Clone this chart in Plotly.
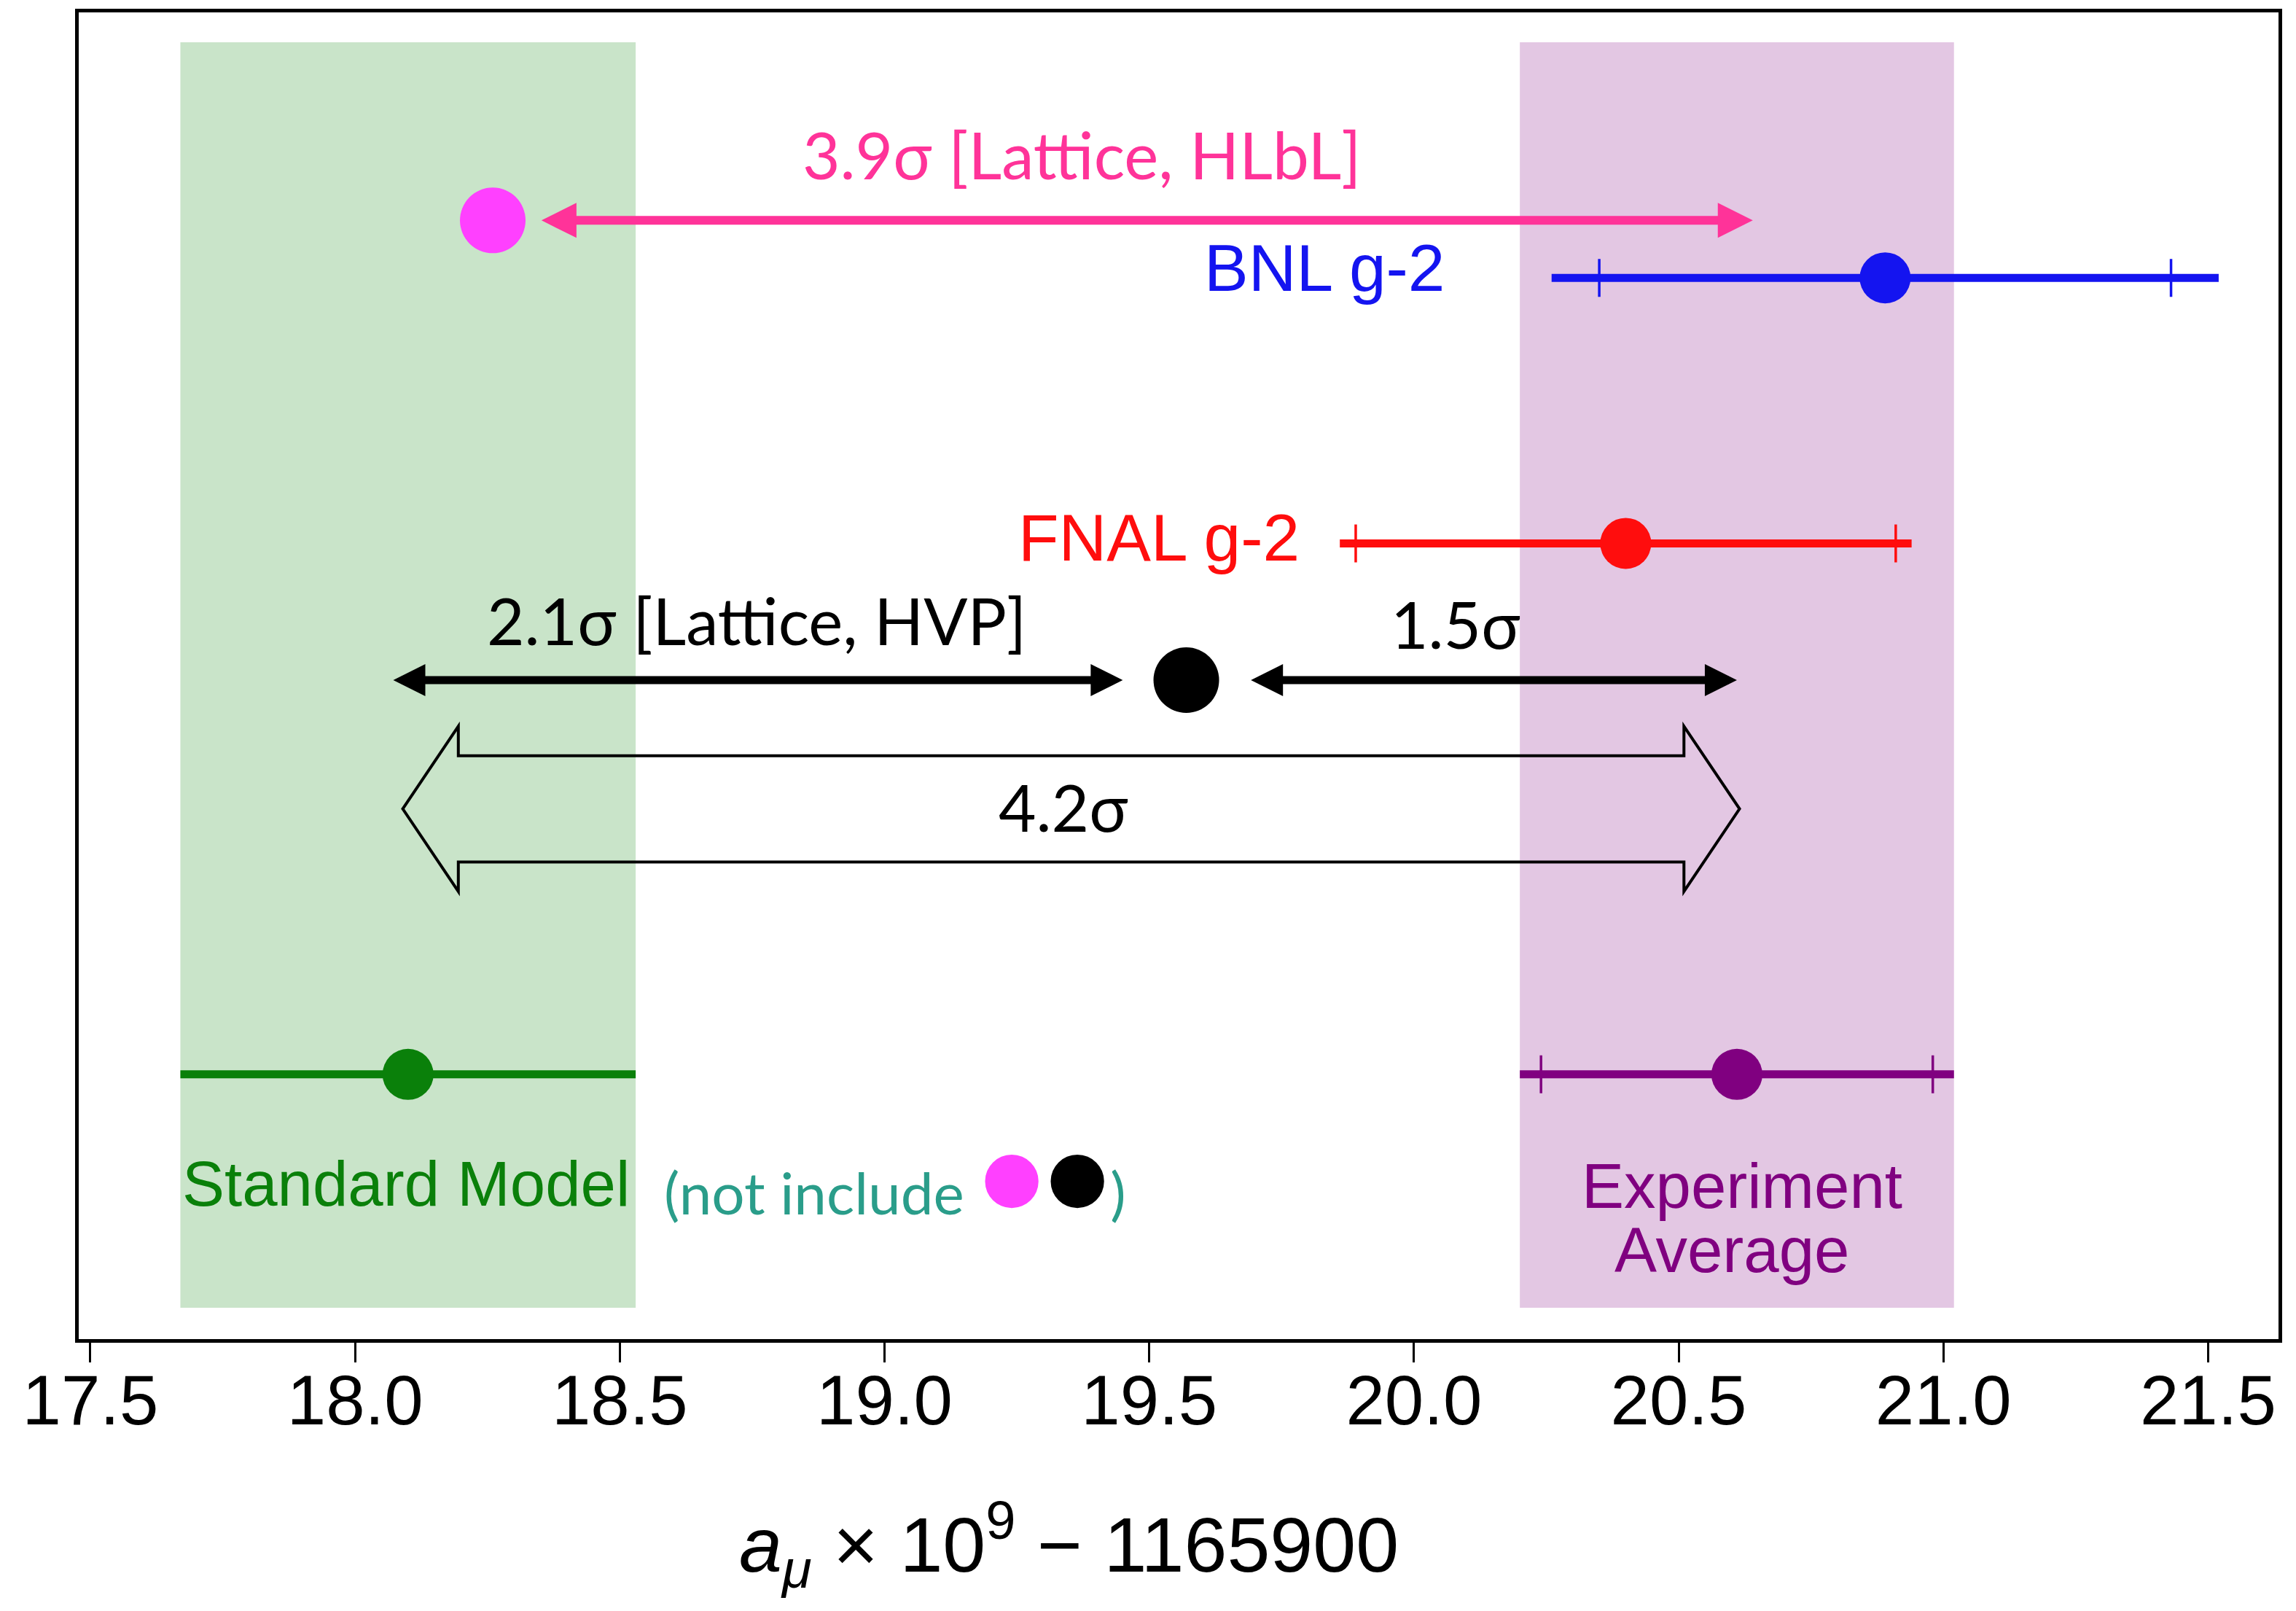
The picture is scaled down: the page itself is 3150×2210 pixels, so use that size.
import plotly.graph_objects as go

# ---------------- data ----------------
labels = ["Standard Model", "FNAL g-2", "BNL g-2", "Experiment Average"]
central = [18.10, 20.40, 20.89, 20.61]
err_total = [0.43, 0.54, 0.63, 0.41]
err_stat = [0.0, 0.51, 0.54, 0.37]
colors = ["#0a800a", "#ff0d0d", "#1414f0", "#800080"]
row_y = [3.64, 10.94, 14.59, 3.64]

lattice_hlbl = 18.26     # pink point
lattice_hvp = 19.57      # black point
hlbl_row = 15.38
hvp_row = 9.06
sigma_row = 7.29

hlbl_arrow = [18.35, 20.64]
hvp_left_arrow = [18.07, 19.45]
hvp_right_arrow = [19.69, 20.61]
big_arrow = [18.09, 20.615]

xticks = [17.5, 18.0, 18.5, 19.0, 19.5, 20.0, 20.5, 21.0, 21.5]
xtick_text = ["17.5", "18.0", "18.5", "19.0", "19.5", "20.0", "20.5", "21.0", "21.5"]
x_range = [17.478, 21.633]
y_range = [0, 18.24]
band_y = [0.43, 17.83]

PINK_DOT = "#ff40ff"
PINK = "#ff3399"
TEAL = "#2a9d8a"

fig = go.Figure()

# bands (SM and experiment average)
for i, col in [(0, "rgba(0,128,0,0.21)"), (3, "rgba(128,0,128,0.22)")]:
    fig.add_shape(type="rect", xref="x", yref="y", layer="below",
                  x0=central[i] - err_total[i], x1=central[i] + err_total[i],
                  y0=band_y[0], y1=band_y[1], fillcolor=col, line=dict(width=0))

# measurements: total error (no caps) + stat error (caps)
for i in range(4):
    fig.add_trace(go.Scatter(
        x=[central[i]], y=[row_y[i]], mode="markers",
        marker=dict(size=1, color=colors[i], opacity=0),
        error_x=dict(type="data", array=[err_total[i]], color=colors[i],
                     thickness=11, width=0),
        showlegend=False, hoverinfo="skip"))
    if err_stat[i] > 0:
        fig.add_trace(go.Scatter(
            x=[central[i]], y=[row_y[i]], mode="markers",
            marker=dict(size=1, color=colors[i], opacity=0),
            error_x=dict(type="data", array=[err_stat[i]], color=colors[i],
                         thickness=3.5, width=26),
            showlegend=False, hoverinfo="skip"))
    fig.add_trace(go.Scatter(
        x=[central[i]], y=[row_y[i]], mode="markers",
        marker=dict(size=70, color=colors[i], line=dict(width=0)),
        showlegend=False, hoverinfo="skip"))

# lattice points
fig.add_trace(go.Scatter(x=[lattice_hlbl], y=[hlbl_row], mode="markers",
                         marker=dict(size=90, color=PINK_DOT, line=dict(width=0)),
                         showlegend=False, hoverinfo="skip"))
fig.add_trace(go.Scatter(x=[lattice_hvp], y=[hvp_row], mode="markers",
                         marker=dict(size=90, color="black", line=dict(width=0)),
                         showlegend=False, hoverinfo="skip"))

# double-headed arrows
def darrow(xs, y, color, width):
    fig.add_annotation(x=xs[1], y=y, ax=xs[0], ay=y, xref="x", yref="y",
                       axref="x", ayref="y", text="", showarrow=True,
                       arrowside="end+start", arrowhead=2, startarrowhead=2,
                       arrowsize=0.8, startarrowsize=0.8, arrowwidth=width,
                       arrowcolor=color, standoff=0, startstandoff=0)

darrow(hlbl_arrow, hlbl_row, PINK, 12)
darrow(hvp_left_arrow, hvp_row, "black", 11)
darrow(hvp_right_arrow, hvp_row, "black", 11)

# hollow 4.2 sigma arrow
hl = 0.105   # head length (x units)
hh = 1.135   # head half height (y units)
sh = 0.73    # shaft half height
L, R = big_arrow
c = sigma_row
pts = [(L, c), (L + hl, c + hh), (L + hl, c + sh), (R - hl, c + sh), (R - hl, c + hh),
       (R, c), (R - hl, c - hh), (R - hl, c - sh), (L + hl, c - sh), (L + hl, c - hh)]
path = "M " + " L ".join(f"{px},{py}" for px, py in pts) + " Z"
fig.add_shape(type="path", path=path, xref="x", yref="y",
              line=dict(color="black", width=4), fillcolor="rgba(0,0,0,0)")

# text labels
def txt(x, y, s, color, size, family, xanchor="center"):
    fig.add_annotation(x=x, y=y, xref="x", yref="y", text=s, showarrow=False,
                       font=dict(color=color, size=size, family=family),
                       xanchor=xanchor, yanchor="middle")

LATO = "Lato"
ARIAL = "Liberation Sans, Arial"
txt(19.373, 16.29, "3.9σ [Lattice, HLbL]", PINK, 89, LATO)
txt(20.061, 14.73, labels[2], colors[2], 91, ARIAL, xanchor="right")
txt(19.518, 11.02, labels[1], colors[1], 91, ARIAL)
txt(18.758, 9.89, "2.1σ [Lattice, HVP]", "black", 89, LATO)
txt(20.078, 9.84, "1.5σ", "black", 89, LATO)
txt(19.337, 7.32, "4.2σ", "black", 89, LATO)
txt(18.096, 2.14, labels[0], colors[0], 87, ARIAL)
txt(19.02, 2.30,
    "(not include <span style='fill:#ff40ff;font-size:150px'>●</span>"
    "<span style='fill:#000000;font-size:150px'>●</span>)", TEAL, 80, LATO)
txt(20.62, 2.11, "Experiment", colors[3], 87, ARIAL)
txt(20.60, 1.23, "Average", colors[3], 87, ARIAL)

# x-axis title
fig.add_annotation(x=0.450, y=-0.155, xref="paper", yref="paper",
                   text="<i>a</i><sub><i>μ</i></sub> × 10<sup>9</sup> − 1165900",
                   showarrow=False, font=dict(size=106, family=ARIAL, color="black"),
                   xanchor="center", yanchor="middle")

fig.update_layout(
    width=3150, height=2210,
    margin=dict(l=108, r=24, t=13, b=373),
    paper_bgcolor="white", plot_bgcolor="white",
    xaxis=dict(range=x_range, tickvals=xticks, ticktext=xtick_text,
               ticks="outside", ticklen=27, tickwidth=3, tickcolor="black",
               tickfont=dict(size=96, family=ARIAL, color="black"),
               ticklabelstandoff=-30,
               showline=True, linecolor="black", linewidth=5, mirror=True,
               showgrid=False, zeroline=False),
    yaxis=dict(range=y_range, showticklabels=False, ticks="",
               showline=True, linecolor="black", linewidth=5, mirror=True,
               showgrid=False, zeroline=False),
)

fig.write_html("out.html")
